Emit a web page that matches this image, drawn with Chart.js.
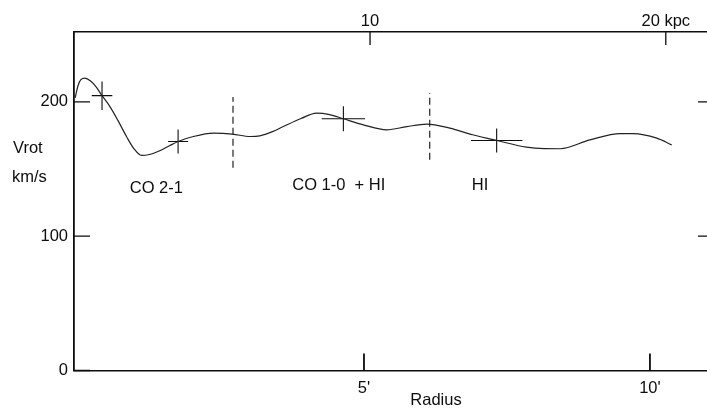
<!DOCTYPE html>
<html>
<head>
<meta charset="utf-8">
<script src="https://cdn.jsdelivr.net/npm/chart.js@4.4.1/dist/chart.umd.min.js"></script>
<style>
  html, body { margin: 0; padding: 0; background: #fff; overflow: hidden; }
  #wrap { position: relative; width: 720px; height: 411px; }
</style>
</head>
<body>
<div id="wrap"><canvas id="rc"></canvas></div>
<script>
// Rotation curve: radius in arcmin, rotation velocity in km/s
const radiusArcmin = [-0.05, 0.0, 0.05, 0.12, 0.22, 0.32, 0.42, 0.55, 0.70, 0.85, 0.98, 1.11, 1.25, 1.43, 1.60, 1.75,
  2.00, 2.37, 2.70, 3.01, 3.18, 3.40, 3.59, 3.90, 4.17, 4.40, 4.64, 4.99, 5.40, 5.75, 6.10, 6.50, 6.90, 7.32,
  7.84, 8.15, 8.43, 8.95, 9.48, 9.71, 10.12, 10.38];
const vrot = [203, 212, 216.5, 217.6, 215.5, 211, 204.6, 197, 186, 174, 165, 160.1, 160.8, 163.6, 167.3, 170.5,
  174, 176.7, 176, 174.2, 174.7, 177.8, 181.6, 187.6, 191.6, 190.5, 187.4, 182.9, 179.2, 181.6, 183.4, 180.4, 175.5, 171.2,
  166.3, 165.2, 165.1, 171.7, 176.4, 176.4, 173.0, 168.0];

// Representative error crosses
const crossR = [0.42, 1.75, 4.64, 7.32];
const crossV = [204.6, 170.5, 187.4, 171.2];
const crossDR = [0.18, 0.175, 0.38, 0.45];
const crossDV = [10.6, 8.9, 9.3, 8.9];

// Dashed boundaries between tracer regions
const boundaryR = [2.71, 6.15];
const boundaryTop = [203.7, 206.5];
const boundaryBottom = [150.9, 156.9];

// Tracer region labels
const regionLabels = ['CO 2-1', 'CO 1-0  + HI', 'HI'];
const regionLabelR = [1.37, 4.56, 7.03];
const regionLabelV = [135.5, 138, 138];

// Axis ticks
const velocityTicks = [0, 100, 200];
const velocityRightTicks = [100, 200];
const radiusTicks = [5, 10];
const radiusTickLabels = ["5'", "10'"];
const kpcTicks = [10, 20];
const kpcTickLabels = ['10', '20 kpc'];

const FONT = "'Liberation Sans', Arial, Helvetica, sans-serif";
const INK = '#0d0d0d';

const datasets = [{
  data: radiusArcmin.map((r, i) => ({ x: r, y: vrot[i] })),
  borderColor: '#222',
  borderWidth: 1.2,
  cubicInterpolationMode: 'monotone',
  pointRadius: 0,
  showLine: true,
  xAxisID: 'x',
  yAxisID: 'y'
}];

crossR.forEach((r, i) => {
  datasets.push({
    data: [{ x: r - crossDR[i], y: crossV[i] }, { x: r + crossDR[i], y: crossV[i] }],
    borderColor: INK, borderWidth: 1.1, pointRadius: 0, showLine: true, xAxisID: 'x', yAxisID: 'y'
  });
  datasets.push({
    data: [{ x: r, y: crossV[i] - crossDV[i] }, { x: r, y: crossV[i] + crossDV[i] }],
    borderColor: INK, borderWidth: 1.1, pointRadius: 0, showLine: true, xAxisID: 'x', yAxisID: 'y'
  });
});

boundaryR.forEach((r, i) => {
  datasets.push({
    data: [{ x: r, y: boundaryBottom[i] }, { x: r, y: boundaryTop[i] }],
    borderColor: INK, borderWidth: 1.1, borderDash: [7, 4], pointRadius: 0, showLine: true,
    xAxisID: 'x', yAxisID: 'y'
  });
});

// Inward tick marks on all four sides of the frame, plus free text
const framePlugin = {
  id: 'frame',
  afterDraw(chart) {
    const { ctx, chartArea: a, scales } = chart;
    const ys = scales.y, xs = scales.x, ks = scales.xTop;
    ctx.save();
    ctx.strokeStyle = INK;
    ctx.lineWidth = 1.3;
    ctx.beginPath();
    velocityTicks.forEach(v => { const p = ys.getPixelForValue(v); ctx.moveTo(a.left, p); ctx.lineTo(a.left + 16, p); });
    velocityRightTicks.forEach(v => { const p = ys.getPixelForValue(v); ctx.moveTo(a.right - 16, p); ctx.lineTo(a.right, p); });
    kpcTicks.forEach(k => { const p = ks.getPixelForValue(k); ctx.moveTo(p, a.top); ctx.lineTo(p, a.top + 13); });
    ctx.stroke();
    ctx.lineWidth = 1.8;
    ctx.beginPath();
    radiusTicks.forEach(r => { const p = xs.getPixelForValue(r); ctx.moveTo(p, a.bottom); ctx.lineTo(p, a.bottom - 17); });
    ctx.stroke();

    ctx.fillStyle = INK;
    ctx.font = '16.5px ' + FONT;
    ctx.textBaseline = 'middle';
    ctx.textAlign = 'center';
    regionLabels.forEach((t, i) => {
      ctx.fillText(t, xs.getPixelForValue(regionLabelR[i]), ys.getPixelForValue(regionLabelV[i]));
    });
    ctx.textAlign = 'left';
    ctx.fillText('Vrot', 13, 148);
    ctx.fillText('km/s', 12, 177);
    ctx.textAlign = 'center';
    ctx.fillText('Radius', 436, 400);
    ctx.restore();
  }
};

new Chart(document.getElementById('rc'), {
  type: 'scatter',
  data: { datasets },
  options: {
    responsive: true,
    maintainAspectRatio: false,
    animation: false,
    events: [],
    layout: { padding: { left: 0, right: 6, top: 0, bottom: 0 } },
    plugins: { legend: { display: false }, tooltip: { enabled: false } },
    scales: {
      x: {
        type: 'linear', position: 'bottom', min: -0.07, max: 11.12,
        afterBuildTicks: s => { s.ticks = radiusTicks.map(v => ({ value: v })); },
        afterFit: s => { s.height = 40.5; },
        grid: { display: false, drawTicks: false },
        border: { display: true, color: INK, width: 1.6 },
        ticks: {
          padding: 8, color: INK, font: { family: FONT, size: 16.5 },
          maxRotation: 0, autoSkip: false,
          callback: v => radiusTickLabels[radiusTicks.indexOf(v)]
        }
      },
      xTop: {
        type: 'linear', position: 'top', min: -0.01, max: 21.63,
        afterBuildTicks: s => { s.ticks = kpcTicks.map(v => ({ value: v })); },
        afterFit: s => { s.height = 32; },
        grid: { display: false, drawTicks: false },
        border: { display: true, color: INK, width: 1.6 },
        ticks: {
          padding: 1, color: INK, font: { family: FONT, size: 16.5 },
          maxRotation: 0, autoSkip: false,
          callback: v => kpcTickLabels[kpcTicks.indexOf(v)]
        }
      },
      y: {
        type: 'linear', position: 'left', min: 0, max: 252,
        afterBuildTicks: s => { s.ticks = velocityTicks.map(v => ({ value: v })); },
        afterFit: s => { s.width = 74; },
        grid: { display: false, drawTicks: false },
        border: { display: true, color: INK, width: 1.8 },
        ticks: { padding: 6, color: INK, font: { family: FONT, size: 16.5 } }
      }
    }
  },
  plugins: [framePlugin]
});
</script>
</body>
</html>
